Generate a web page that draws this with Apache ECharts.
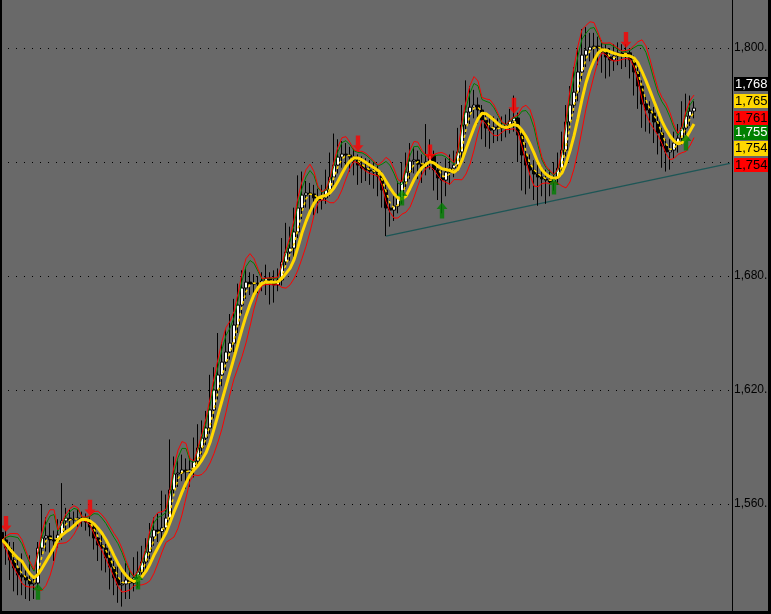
<!DOCTYPE html>
<html><head><meta charset="utf-8">
<script src="https://cdn.jsdelivr.net/npm/echarts@6/dist/echarts.min.js"></script>
<style>html,body{margin:0;padding:0;background:#696969;overflow:hidden}#c{width:771px;height:614px}</style>
</head><body><div id="c"></div>
<script>
// ---- price data (one entry per bar) ----
const opens=[1545.0,1541.1,1536.8,1530.5,1526.3,1522.6,1521.6,1520.0,1517.9,1518.4,
1536.8,1542.1,1543.2,1541.1,1540.5,1543.7,1551.1,1552.6,1551.6,1552.0,
1552.6,1552.1,1550.5,1547.9,1542.1,1538.4,1536.8,1531.6,1526.8,1521.1,
1517.4,1517.9,1520.0,1518.4,1521.1,1524.2,1529.5,1534.7,1542.6,1546.3,
1545.5,1547.4,1552.6,1567.4,1575.8,1576.3,1577.9,1576.8,1577.9,1582.6,
1589.5,1594.7,1600.0,1609.5,1620.0,1627.9,1634.7,1640.0,1644.7,1654.2,
1664.7,1673.7,1676.8,1675.8,1676.3,1676.0,1677.4,1678.9,1676.3,1675.3,
1677.9,1687.4,1692.6,1694.7,1703.2,1715.8,1722.6,1723.7,1723.2,1721.1,
1720.0,1721.1,1725.3,1732.1,1738.4,1742.6,1744.2,1743.7,1742.6,1741.1,
1738.4,1736.8,1735.8,1735.3,1734.7,1732.6,1725.3,1715.8,1714.7,1716.8,
1721.1,1729.5,1734.7,1740.5,1741.1,1738.9,1737.4,1740.0,1743.7,1735.8,
1731.6,1730.5,1734.7,1736.8,1738.4,1745.3,1759.5,1766.3,1768.9,1770.0,
1767.4,1762.1,1757.9,1756.8,1758.4,1757.8,1758.4,1759.5,1761.6,1763.2,
1754.2,1743.7,1738.4,1735.8,1733.7,1732.1,1731.1,1730.5,1729.5,1731.6,
1736.8,1746.3,1761.1,1770.0,1776.8,1787.4,1796.3,1798.9,1800.5,1801.0,
1800.0,1797.9,1795.3,1793.7,1795.8,1797.4,1796.8,1797.5,1793.7,1787.4,
1780.0,1770.5,1767.4,1765.8,1761.1,1755.3,1748.4,1745.3,1746.3,1750.0,
1752.6,1757.9,1764.2,1766.8];
const closes=[1541.1,1536.8,1530.5,1526.3,1522.6,1521.6,1520.0,1517.9,1518.4,1536.8,
1542.1,1543.2,1541.1,1540.5,1543.7,1551.1,1552.6,1551.6,1552.0,1552.6,
1552.1,1550.5,1547.9,1542.1,1538.4,1536.8,1531.6,1526.8,1521.1,1517.4,
1517.9,1520.0,1518.4,1521.1,1524.2,1529.5,1534.7,1542.6,1546.3,1545.5,
1547.4,1552.6,1567.4,1575.8,1576.3,1577.9,1576.8,1577.9,1582.6,1589.5,
1594.7,1600.0,1609.5,1620.0,1627.9,1634.7,1640.0,1644.7,1654.2,1664.7,
1673.7,1676.8,1675.8,1676.3,1676.0,1677.4,1678.9,1676.3,1675.3,1677.9,
1687.4,1692.6,1694.7,1703.2,1715.8,1722.6,1723.7,1723.2,1721.1,1720.0,
1721.1,1725.3,1732.1,1738.4,1742.6,1744.2,1743.7,1742.6,1741.1,1738.4,
1736.8,1735.8,1735.3,1734.7,1732.6,1725.3,1715.8,1714.7,1716.8,1721.1,
1729.5,1734.7,1740.5,1741.1,1738.9,1737.4,1740.0,1743.7,1735.8,1731.6,
1730.5,1734.7,1736.8,1738.4,1745.3,1759.5,1766.3,1768.9,1770.0,1767.4,
1762.1,1757.9,1756.8,1758.4,1757.8,1758.4,1759.5,1761.6,1763.2,1754.2,
1743.7,1738.4,1735.8,1733.7,1732.1,1731.1,1730.5,1729.5,1731.6,1736.8,
1746.3,1761.1,1770.0,1776.8,1787.4,1796.3,1798.9,1800.5,1801.0,1800.0,
1797.9,1795.3,1793.7,1795.8,1797.4,1796.8,1797.5,1793.7,1787.4,1780.0,
1770.5,1767.4,1765.8,1761.1,1755.3,1748.4,1745.3,1746.3,1750.0,1752.6,
1757.9,1764.2,1766.8,1768.4];
const highs=[1549,1546,1540,1540,1531,1534,1525,1533,1522,1540,
1560,1553,1550,1546,1552,1571,1558,1557,1556,1557,
1556,1555,1553,1550,1545,1544,1539,1535,1530,1527,
1524,1529,1526,1532,1535,1538,1542,1550,1553,1555,
1567,1565,1594,1585,1583,1586,1584,1585,1595,1602,
1604,1609,1628,1632,1650,1645,1652,1660,1668,1676,
1683,1684,1682,1681,1680,1682,1686,1682,1683,1684,
1700,1708,1706,1716,1733,1735,1730,1729,1728,1726,
1728,1736,1745,1755,1752,1751,1750,1748,1747,1744,
1743,1742,1741,1740,1738,1735,1728,1720,1722,1730,
1740,1745,1750,1748,1746,1744,1760,1752,1746,1740,
1737,1742,1744,1746,1758,1770,1783,1780,1778,1774,
1770,1766,1763,1764,1763,1764,1765,1768,1775,1766,
1757,1750,1744,1741,1739,1738,1736,1736,1740,1745,
1756,1770,1780,1790,1800,1810,1811,1808,1808,1806,
1804,1802,1800,1802,1803,1802,1802,1800,1796,1790,
1783,1775,1772,1769,1764,1758,1752,1752,1756,1760,
1772,1776,1775,1772];
const lows=[1534,1528,1520,1514,1512,1512,1510,1509,1510,1516,
1533,1535,1533,1530,1537,1541,1546,1547,1548,1548,
1548,1546,1543,1536,1530,1525,1524,1515,1512,1508,
1506,1510,1510,1514,1516,1520,1526,1531,1538,1540,
1541,1544,1550,1565,1569,1572,1568,1569,1574,1579,
1586,1591,1597,1605,1615,1622,1630,1636,1640,1650,
1660,1668,1670,1671,1671,1672,1670,1665,1666,1672,
1675,1684,1688,1690,1700,1710,1716,1714,1712,1713,
1715,1718,1722,1728,1734,1737,1738,1735,1733,1728,
1729,1730,1728,1726,1722,1716,1701,1706,1709,1713,
1718,1726,1731,1734,1731,1729,1733,1736,1725,1720,
1713,1722,1728,1732,1735,1742,1755,1760,1763,1760,
1752,1748,1747,1750,1751,1751,1753,1755,1756,1740,
1725,1723,1726,1720,1717,1722,1718,1722,1725,1728,
1733,1743,1757,1766,1772,1783,1790,1793,1794,1791,
1787,1784,1785,1788,1791,1789,1790,1784,1775,1768,
1758,1756,1755,1750,1744,1737,1735,1736,1742,1745,
1749,1754,1759,1763];
// signal arrows
const sellIdx=[1,22,89,107,128,156];
const sellVal=[1549.5,1558.0,1749.7,1745.0,1769.7,1804.2];
const buyIdx=[9,34,100,110,138,171];
const buyVal=[1513.8,1519.2,1721.3,1714.5,1727.1,1750.3];
// trend line
const trendIdx=[96,182];
const trendVal=[1701.0,1739.3];
// axis
const yMin=1502.1, yMax=1825.3;
const gridValues=[1560,1620,1680,1740,1800];
const labelValues=[1560,1620,1680,1800];
const slots=183;
// last-value tags
const lastLabels=['1,768','1,765','1,761','1,755','1,754','1,754'];

// ---- indicators computed from the bars ----
function sma(a,n){return a.map((_,i)=>{const s=a.slice(Math.max(0,i-n+1),i+1);return s.reduce((p,q)=>p+q,0)/s.length;});}
function stdev(a,n){const m=sma(a,n);return a.map((_,i)=>{const s=a.slice(Math.max(0,i-n+1),i+1);return Math.sqrt(s.reduce((p,q)=>p+(q-m[i])*(q-m[i]),0)/s.length);});}
const maSlow=sma(closes,6);
const maFast=sma(closes,3);
const mid=sma(closes,5), dev=stdev(closes,6);
const bandUp=mid.map((m,i)=>m+1.9*dev[i]);
const bandGreen=mid.map((m,i)=>m+1.6*dev[i]);
const bandLo=mid.map((m,i)=>m-1.3*dev[i]);
const r=v=>+v.toFixed(2);

const cats=Array.from({length:slots},(_,i)=>String(i));
const ohlc=opens.map((o,i)=>[o,closes[i],lows[i],highs[i]]);

const chart=echarts.init(document.getElementById('c'),null,{renderer:'canvas'});
const tagStyle=[['#000000','#ffffff'],['#ffd700','#000000'],['#ff0000','#000000'],['#008000','#ffffff'],['#ffd700','#000000'],['#ff0000','#000000']];
const tagY=[77,94,111,125,141,158], tagH=[14,14,14,15,15,14];
const graphics=[
 {type:'rect',left:0,top:0,shape:{width:2,height:614},style:{fill:'#000'},z:200},
 {type:'rect',left:0,top:611,shape:{width:771,height:3},style:{fill:'#000'},z:200},
 {type:'rect',left:768,top:0,shape:{width:3,height:614},style:{fill:'#000'},z:200}
];
lastLabels.forEach((t,i)=>{
 graphics.push({type:'group',left:734,top:tagY[i],z:150,children:[
  {type:'rect',shape:{x:0,y:0,width:35,height:tagH[i]},style:{fill:tagStyle[i][0]}},
  {type:'text',x:1,y:tagH[i]/2,style:{text:t,fill:tagStyle[i][1],font:'13px "Liberation Sans", Arial, sans-serif',verticalAlign:'middle',textAlign:'left'}}
 ]});
});
const upArrow='path://M5,0 L10,6 L7,6 L7,15 L3,15 L3,6 L0,6 Z';
const downArrow='path://M3,0 L7,0 L7,9 L10,9 L5,15 L0,9 L3,9 Z';
chart.setOption({
 backgroundColor:'#696969',
 animation:false,
 grid:{left:0,right:39,top:0,bottom:0,containLabel:false},
 xAxis:{type:'category',data:cats,show:false,boundaryGap:true},
 yAxis:{type:'value',position:'right',min:yMin,max:yMax,
  axisLine:{show:true,lineStyle:{color:'#000',width:1}},
  axisTick:{show:false,customValues:gridValues},
  axisLabel:{show:true,customValues:labelValues,margin:2,color:'#000',fontSize:12,fontFamily:'"Liberation Sans", Arial, sans-serif',
   formatter:v=>v.toLocaleString('en-US')+'.'},
  splitLine:{show:true,lineStyle:{color:'#000',width:1,type:[1,7]}}},
 graphic:graphics,
 series:[
  {type:'candlestick',data:ohlc,barWidth:4,
   itemStyle:{color:'#ffffff',color0:'#000000',borderColor:'#000000',borderColor0:'#000000',borderWidth:1}},
  {type:'line',data:bandLo.map(r),showSymbol:false,lineStyle:{color:'#ff0000',width:1},z:3},
  {type:'line',data:bandGreen.map(r),showSymbol:false,lineStyle:{color:'#008000',width:1},z:3},
  {type:'line',data:bandUp.map(r),showSymbol:false,lineStyle:{color:'#ff0000',width:1},z:3},
  {type:'line',data:maSlow.map(r),showSymbol:false,lineStyle:{color:'#ffd700',width:3},z:4},
  {type:'line',data:maFast.map(r),showSymbol:false,lineStyle:{color:'#ffd700',width:1.5,type:[3,3]},z:4},
  {type:'line',data:trendIdx.map((x,i)=>[x,trendVal[i]]),showSymbol:false,lineStyle:{color:'#1d5656',width:1.5},z:2},
  {type:'scatter',data:sellIdx.map((x,i)=>[x,sellVal[i]]),symbol:downArrow,symbolSize:[11,16],itemStyle:{color:'#ff0000'},z:6},
  {type:'scatter',data:buyIdx.map((x,i)=>[x,buyVal[i]]),symbol:upArrow,symbolSize:[11,16],itemStyle:{color:'#008000'},z:6}
 ]
});
</script></body></html>
